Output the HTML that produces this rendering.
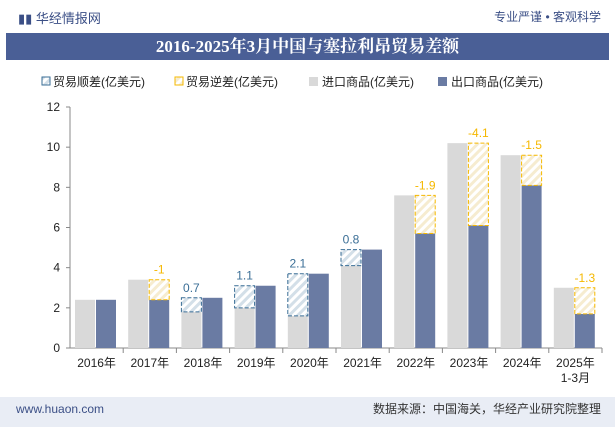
<!DOCTYPE html><html><head><meta charset="utf-8"><style>
body{margin:0;width:615px;height:427px;background:#fff;font-family:"Liberation Sans","Noto Sans CJK SC",sans-serif;overflow:hidden;position:relative}
.hdr{position:absolute;left:0;top:0;width:615px;height:32px;background:#fff}
.title{position:absolute;left:6px;top:33px;width:603px;height:27px;background:#4a5f96;color:#fff;font-weight:bold;font-size:17px;text-align:center;line-height:27px;font-family:"Liberation Serif","Noto Serif CJK SC",serif}
.foot{position:absolute;left:0;top:397px;width:615px;height:30px;background:#e9edf5;font-size:12px;line-height:24px}
</style></head><body>
<div class="hdr">
<span style="position:absolute;left:18px;top:8px;font-size:13px;color:#3b4f86">▮▮ 华经情报网</span>
<span style="position:absolute;right:14px;top:8px;font-size:12px;color:#3b4f86">专业严谨 • 客观科学</span></div>
<div class="title">2016-2025年3月中国与塞拉利昂贸易差额</div>
<svg width="615" height="427" style="position:absolute;left:0;top:0" id="c">
<defs>
<pattern id="hb" width="6" height="6" patternUnits="userSpaceOnUse" patternTransform="rotate(45)"><rect width="6" height="6" fill="#fff"/><rect width="3" height="6" fill="#d3dfe8"/></pattern>
<pattern id="hy" width="6" height="6" patternUnits="userSpaceOnUse" patternTransform="rotate(45)"><rect width="6" height="6" fill="#fff"/><rect width="3" height="6" fill="#f6ecd0"/></pattern>
</defs>
<g font-size="12" fill="#222">
<rect x="42" y="77" width="8" height="8" fill="url(#hb)" stroke="#3a6e96"/><text x="53" y="86">贸易顺差(亿美元)</text>
<rect x="175" y="77" width="8" height="8" fill="url(#hy)" stroke="#f5b800"/><text x="186" y="86">贸易逆差(亿美元)</text>
<rect x="309" y="77" width="9" height="9" fill="#d9d9d9"/><text x="322" y="86">进口商品(亿美元)</text>
<rect x="438" y="77" width="9" height="9" fill="#6a7ba3"/><text x="451" y="86">出口商品(亿美元)</text>
</g>
<g id="plot"></g>
</svg>
<div class="foot">
<span style="position:absolute;left:16px;color:#3b4f86">www.huaon.com</span>
<span style="position:absolute;right:14px;color:#333">数据来源：中国海关，华经产业研究院整理</span></div>
<script>
const categories=["2016年","2017年","2018年","2019年","2020年","2021年","2022年","2023年","2024年","2025年"];
const importVals=[2.4,3.4,1.8,2.0,1.6,4.1,7.6,10.2,9.6,3.0];
const exportVals=[2.4,2.4,2.5,3.1,3.7,4.9,5.7,6.1,8.1,1.7];
const balanceLabels=["","-1","0.7","1.1","2.1","0.8","-1.9","-4.1","-1.5","-1.3"];
const yTicks=[0,2,4,6,8,10,12];
const NS="http://www.w3.org/2000/svg",g=document.getElementById('plot');
const X0=70,X1=602,Y0=348,Y12=107,cw=(X1-X0)/categories.length;
const y=v=>Y0-(Y0-Y12)*v/12;
function el(t,a,txt){const e=document.createElementNS(NS,t);for(const k in a)e.setAttribute(k,a[k]);if(txt!=null)e.textContent=txt;g.appendChild(e);return e;}
let ax=el('line',{x1:X0,y1:Y0,x2:X0,y2:Y12,stroke:'#888'});


yTicks.forEach(t=>{el('line',{x1:X0-4,x2:X0,y1:y(t),y2:y(t),stroke:'#888'});
const tx=el('text',{x:X0-10,y:y(t)+4,'text-anchor':'end','font-size':12,fill:'#222'},t);

});
const xa=el('line',{x1:X0,y1:Y0,x2:X1,y2:Y0,stroke:'#888'});


categories.forEach((c,i)=>{
const cx=X0+cw*i,ix=cx+5,ex=cx+26,bw=20;
el('line',{x1:cx+cw,x2:cx+cw,y1:Y0,y2:Y0+5,stroke:'#888'});
const r1=el('rect',{x:ix,y:y(importVals[i]),width:bw,height:Y0-y(importVals[i]),fill:'#d9d9d9'});


const r2=el('rect',{x:ex,y:y(exportVals[i]),width:bw,height:Y0-y(exportVals[i]),fill:'#6a7ba3'});


const d=exportVals[i]-importVals[i];
if(Math.abs(d)>0.05){const sur=d>0;const hx=sur?ix:ex,top=y(Math.max(importVals[i],exportVals[i])),bot=y(Math.min(importVals[i],exportVals[i]));
const h=el('rect',{x:hx,y:top,width:bw,height:bot-top,fill:sur?'url(#hb)':'url(#hy)',stroke:sur?'#3a6e96':'#f5b800','stroke-dasharray':'4,2'});


const l=el('text',{x:hx+bw/2,y:top-6,'text-anchor':'middle','font-size':12,fill:sur?'#3a6e96':'#f5b800'},balanceLabels[i]);

}
const xl=el('text',{x:cx+cw/2,y:Y0+19,'text-anchor':'middle','font-size':12,fill:'#222'},c);


if(i==categories.length-1){const s=el('text',{x:cx+cw/2,y:Y0+34,'text-anchor':'middle','font-size':12,fill:'#222'},'1-3月');

}
});
</script></body></html>
